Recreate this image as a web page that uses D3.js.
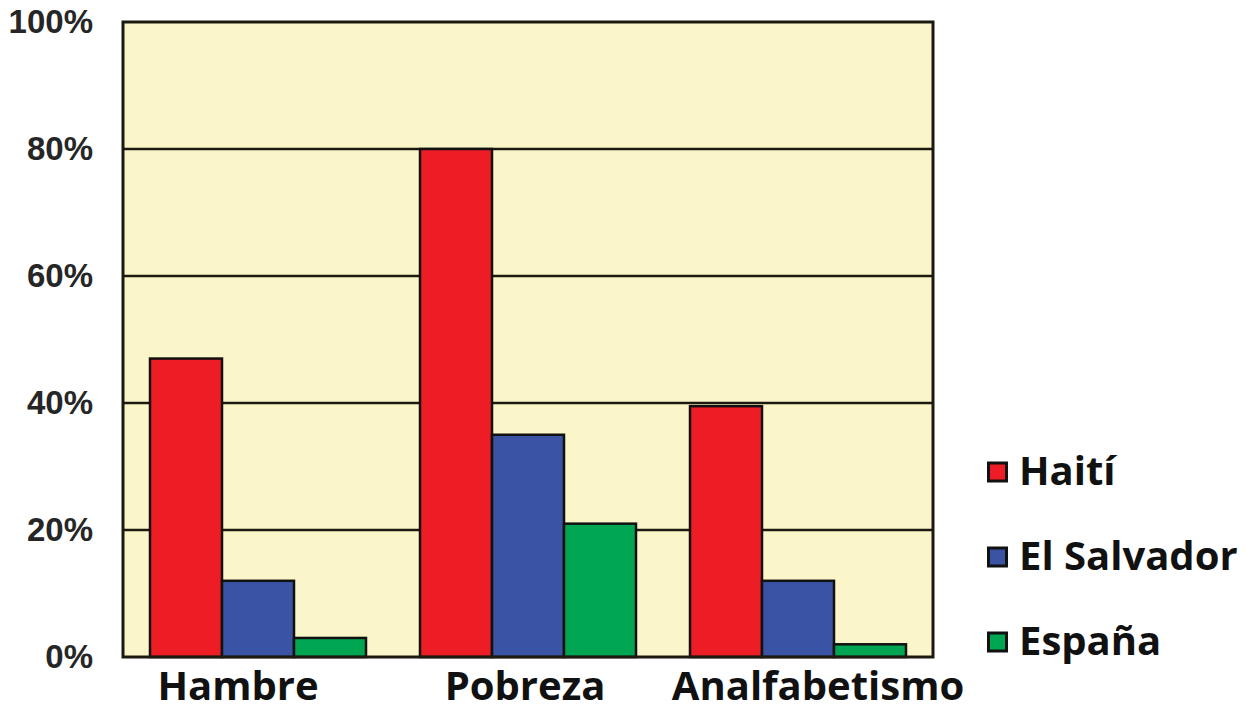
<!DOCTYPE html>
<html>
<head>
<meta charset="utf-8">
<script src="https://cdn.jsdelivr.net/npm/d3@7"></script>
<style>
  body { margin: 0; background: #fff; }
</style>
</head>
<body>
<div id="chart"></div>
<script>
// data
const categories = ['Hambre', 'Pobreza', 'Analfabetismo'];
const series = ['Haití', 'El Salvador', 'España'];
const haiti = [47, 80, 39.5];
const elSalvador = [12, 35, 12];
const espana = [3, 21, 2];
const yTicks = [0, 20, 40, 60, 80, 100];
const colors = ['#ee1c25', '#3a53a4', '#00a651'];

const values = [haiti, elSalvador, espana];

function draw(){
    let dimensions = {
        width: 1253,
        height: 713,
        margin: { top: 22, bottom: 56, left: 123, right: 320 }
    }
    dimensions.ctrWidth = dimensions.width - dimensions.margin.left - dimensions.margin.right
    dimensions.ctrHeight = dimensions.height - dimensions.margin.top - dimensions.margin.bottom

    const svg = d3.select('#chart')
      .append('svg')
      .attr('width', dimensions.width)
      .attr('height', dimensions.height)

    const ctr = svg.append('g')
      .attr('transform', `translate(${dimensions.margin.left}, ${dimensions.margin.top})`)

    const xScale = d3.scaleBand()
      .domain(categories)
      .range([0, dimensions.ctrWidth])
      .paddingInner(0.2)
      .paddingOuter(0.1)

    const xInner = d3.scaleBand()
      .domain(series)
      .range([0, xScale.bandwidth()])

    const yScale = d3.scaleLinear()
      .domain([0, 100])
      .range([dimensions.ctrHeight, 0])

    // plot background
    ctr.append('rect')
      .attr('width', dimensions.ctrWidth)
      .attr('height', dimensions.ctrHeight)
      .attr('fill', '#fbf6c9')

    // gridlines
    ctr.selectAll('.grid')
      .data(yTicks.filter(d => d > 0 && d < 100))
      .join('line')
      .attr('x1', 0)
      .attr('x2', dimensions.ctrWidth)
      .attr('y1', d => yScale(d))
      .attr('y2', d => yScale(d))
      .attr('stroke', '#1c1a10')
      .attr('stroke-width', 2.5)

    // bars
    const groups = ctr.selectAll('.group')
      .data(categories)
      .join('g')
      .attr('transform', d => `translate(${xScale(d)},0)`)

    groups.selectAll('rect')
      .data((c, i) => series.map((s, j) => ({ s, j, v: values[j][i] })))
      .join('rect')
      .attr('x', d => xInner(d.s))
      .attr('width', xInner.bandwidth())
      .attr('y', d => yScale(d.v))
      .attr('height', d => yScale(0) - yScale(d.v))
      .attr('fill', d => colors[d.j])
      .attr('stroke', '#111')
      .attr('stroke-width', 2.5)

    // frame
    ctr.append('rect')
      .attr('width', dimensions.ctrWidth)
      .attr('height', dimensions.ctrHeight)
      .attr('fill', 'none')
      .attr('stroke', '#1c1a10')
      .attr('stroke-width', 3)

    // y axis
    const yAxis = d3.axisLeft(yScale)
      .tickValues(yTicks)
      .tickFormat(d => d + '%')
      .tickSize(0)
      .tickPadding(30)

    const yG = ctr.append('g').call(yAxis)
    yG.select('.domain').remove()
    yG.selectAll('text')
      .attr('font-family', '"Liberation Sans", Arial, sans-serif')
      .attr('font-weight', 'bold')
      .attr('font-size', 33)
      .attr('fill', '#262626')

    // x axis - labels in the original sit a little off the group centres
    const labelShift = [-20, -3, 20]
    const xAxis = d3.axisBottom(xScale)
      .tickSize(0)
      .tickPadding(15)

    const xG = ctr.append('g')
      .attr('transform', `translate(0, ${dimensions.ctrHeight})`)
      .call(xAxis)
    xG.select('.domain').remove()
    xG.selectAll('text')
      .attr('dx', (d, i) => labelShift[i])
      .attr('font-family', '"Open Sans", sans-serif')
      .attr('font-weight', 'bold')
      .attr('font-size', 40)
      .attr('fill', '#111')

    // legend
    const legend = svg.append('g')
      .attr('transform', 'translate(987, 472)')

    const item = legend.selectAll('g')
      .data(series)
      .join('g')
      .attr('transform', (d, i) => `translate(0, ${i * 85})`)

    item.append('rect')
      .attr('x', 1.5)
      .attr('y', -9)
      .attr('width', 18)
      .attr('height', 18)
      .attr('fill', (d, i) => colors[i])
      .attr('stroke', '#111')
      .attr('stroke-width', 3)

    item.append('text')
      .attr('x', 32)
      .attr('y', 13)
      .attr('font-family', '"Open Sans", sans-serif')
      .attr('font-weight', 'bold')
      .attr('font-size', 40)
      .attr('fill', '#111')
      .text(d => d)
}

draw();
</script>
</body>
</html>
